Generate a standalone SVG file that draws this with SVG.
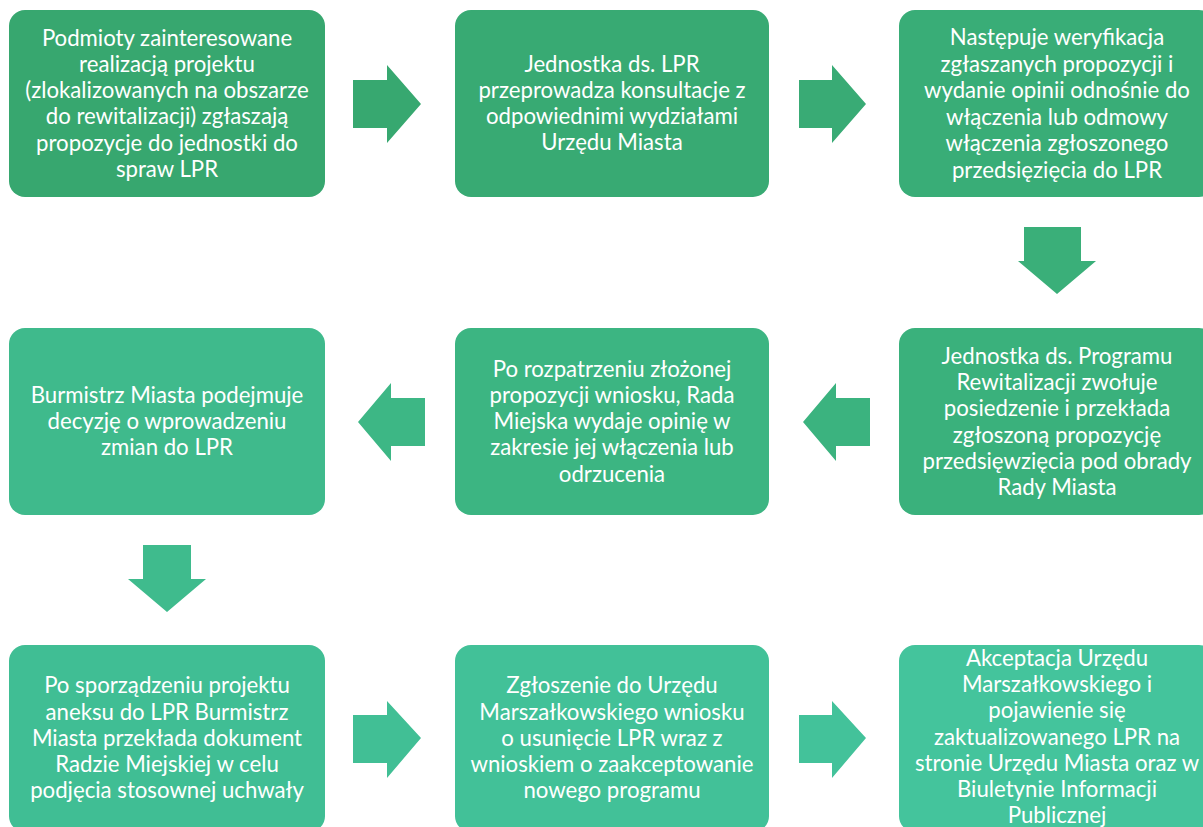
<svg xmlns="http://www.w3.org/2000/svg" width="1203" height="827" viewBox="0 0 1203 827">
<style>
.box{stroke:none}
.t{font-family:Lato,"Liberation Sans",sans-serif;font-size:22.2px;fill:#ffffff;text-anchor:middle}
</style>
<rect width="1203" height="827" fill="#ffffff"/>
<g id="connectors">
<polygon points="353,80 387,80 387,65 421,104 387,143 387,128 353,128" fill="#37a870"/>
<polygon points="799,80 832,80 832,65 866,104 832,143 832,128 799,128" fill="#39ab75"/>
<polygon points="1024,227 1081,227 1081,261 1096,261 1057,294 1018,261 1024,261" fill="#3aaf79"/>
<polygon points="870,398 836,398 836,383 803,422 836,461 836,446 870,446" fill="#3bb37f"/>
<polygon points="425,398 391,398 391,383 358,422 391,461 391,446 425,446" fill="#3db785"/>
<polygon points="143,545 191,545 191,579 206,579 167,612 128,579 143,579" fill="#3fbb8d"/>
<polygon points="353,715 387,715 387,701 421,738 387,778 387,763 353,763" fill="#41bf95"/>
<polygon points="799,715 832,715 832,701 866,738 832,778 832,763 799,763" fill="#43c29a"/>
</g>
<g id="n1"><rect class="box" x="9" y="10" width="316" height="187" rx="16" fill="#37a76f"/>
<text class="t"><tspan x="167" y="45.5">Podmioty zainteresowane</tspan><tspan x="167" y="71.8">realizacją projektu</tspan><tspan x="167" y="98.1">(zlokalizowanych na obszarze</tspan><tspan x="167" y="124.4">do rewitalizacji) zgłaszają</tspan><tspan x="167" y="150.7">propozycje do jednostki do</tspan><tspan x="167" y="177">spraw LPR</tspan></text></g>
<g id="n2"><rect class="box" x="455" y="10" width="314" height="187" rx="16" fill="#38aa73"/>
<text class="t"><tspan x="612" y="71.6">Jednostka ds. LPR</tspan><tspan x="612" y="97.7">przeprowadza konsultacje z</tspan><tspan x="612" y="123.8">odpowiednimi wydziałami</tspan><tspan x="612" y="150">Urzędu Miasta</tspan></text></g>
<g id="n3"><rect class="box" x="899" y="10" width="316" height="187" rx="16" fill="#39ad77"/>
<text class="t"><tspan x="1057" y="45">Następuje weryfikacja</tspan><tspan x="1057" y="71.5">zgłaszanych propozycji i</tspan><tspan x="1057" y="98">wydanie opinii odnośnie do</tspan><tspan x="1057" y="124.5">włączenia lub odmowy</tspan><tspan x="1057" y="151">włączenia zgłoszonego</tspan><tspan x="1057" y="177.5">przedsięzięcia do LPR</tspan></text></g>
<g id="n4"><rect class="box" x="899" y="328" width="316" height="187" rx="16" fill="#3ab17c"/>
<text class="t"><tspan x="1057" y="364">Jednostka ds. Programu</tspan><tspan x="1057" y="390.2">Rewitalizacji zwołuje</tspan><tspan x="1057" y="416.4">posiedzenie i przekłada</tspan><tspan x="1057" y="442.6">zgłoszoną propozycję</tspan><tspan x="1057" y="468.8">przedsięwzięcia pod obrady</tspan><tspan x="1057" y="495">Rady Miasta</tspan></text></g>
<g id="n5"><rect class="box" x="455" y="328" width="314" height="187" rx="16" fill="#3cb582"/>
<text class="t"><tspan x="612" y="376.5">Po rozpatrzeniu złożonej</tspan><tspan x="612" y="402.7">propozycji wniosku, Rada</tspan><tspan x="612" y="429">Miejska wydaje opinię w</tspan><tspan x="612" y="455.2">zakresie jej włączenia lub</tspan><tspan x="612" y="481.5">odrzucenia</tspan></text></g>
<g id="n6"><rect class="box" x="9" y="328" width="316" height="187" rx="16" fill="#3fba8c"/>
<text class="t"><tspan x="167" y="402.5">Burmistrz Miasta podejmuje</tspan><tspan x="167" y="428.8">decyzję o wprowadzeniu</tspan><tspan x="167" y="455">zmian do LPR</tspan></text></g>
<g id="n7"><rect class="box" x="9" y="645" width="316" height="187" rx="16" fill="#40be94"/>
<text class="t"><tspan x="167" y="693.3">Po sporządzeniu projektu</tspan><tspan x="167" y="719.6">aneksu do LPR Burmistrz</tspan><tspan x="167" y="745.8">Miasta przekłada dokument</tspan><tspan x="167" y="772">Radzie Miejskiej w celu</tspan><tspan x="167" y="798.3">podjęcia stosownej uchwały</tspan></text></g>
<g id="n8"><rect class="box" x="455" y="645" width="314" height="187" rx="16" fill="#42c198"/>
<text class="t"><tspan x="612" y="693.3">Zgłoszenie do Urzędu</tspan><tspan x="612" y="719.6">Marszałkowskiego wniosku</tspan><tspan x="612" y="745.8">o usunięcie LPR wraz z</tspan><tspan x="612" y="772">wnioskiem o zaakceptowanie</tspan><tspan x="612" y="798.3">nowego programu</tspan></text></g>
<g id="n9"><rect class="box" x="899" y="645" width="316" height="187" rx="16" fill="#44c49c"/>
<text class="t"><tspan x="1057" y="666">Akceptacja Urzędu</tspan><tspan x="1057" y="692.2">Marszałkowskiego i</tspan><tspan x="1057" y="718.4">pojawienie się</tspan><tspan x="1057" y="744.6">zaktualizowanego LPR na</tspan><tspan x="1057" y="770.8">stronie Urzędu Miasta oraz w</tspan><tspan x="1057" y="797">Biuletynie Informacji</tspan><tspan x="1057" y="823.3">Publicznej</tspan></text></g>
</svg>
